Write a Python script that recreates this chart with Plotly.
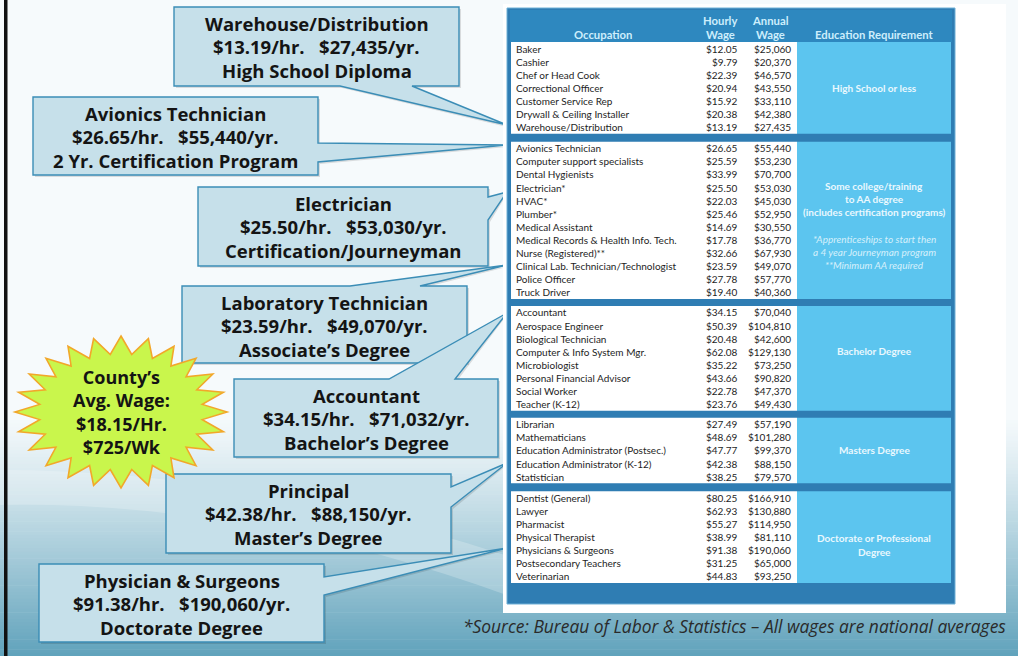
import math
import plotly.graph_objects as go

# ---------------- DATA ----------------
occupations = [
    "Baker", "Cashier", "Chef or Head Cook", "Correctional Officer", "Customer Service Rep",
    "Drywall & Ceiling Installer", "Warehouse/Distribution",
    "Avionics Technician", "Computer support specialists", "Dental Hygienists", "Electrician*",
    "HVAC*", "Plumber*", "Medical Assistant", "Medical Records & Health Info. Tech.",
    "Nurse (Registered)**", "Clinical Lab. Technician/Technologist", "Police Officer", "Truck Driver",
    "Accountant", "Aerospace Engineer", "Biological Technician", "Computer & Info System Mgr.",
    "Microbiologist", "Personal Financial Advisor", "Social Worker", "Teacher (K-12)",
    "Librarian", "Mathematicians", "Education Administrator (Postsec.)",
    "Education Administrator (K-12)", "Statistician",
    "Dentist (General)", "Lawyer", "Pharmacist", "Physical Therapist", "Physicians & Surgeons",
    "Postsecondary Teachers", "Veterinarian",
]
hourly_wage = [
    12.05, 9.79, 22.39, 20.94, 15.92, 20.38, 13.19,
    26.65, 25.59, 33.99, 25.50, 22.03, 25.46, 14.69, 17.78, 32.66, 23.59, 27.78, 19.40,
    34.15, 50.39, 20.48, 62.08, 35.22, 43.66, 22.78, 23.76,
    27.49, 48.69, 47.77, 42.38, 38.25,
    80.25, 62.93, 55.27, 38.99, 91.38, 31.25, 44.83,
]
annual_wage = [
    25060, 20370, 46570, 43550, 33110, 42380, 27435,
    55440, 53230, 70700, 53030, 45030, 52950, 30550, 36770, 67930, 49070, 57770, 40360,
    70040, 104810, 42600, 129130, 73250, 90820, 47370, 49430,
    57190, 101280, 99370, 88150, 79570,
    166910, 130880, 114950, 81110, 190060, 65000, 93250,
]
group_sizes = [7, 12, 8, 5, 7]
education_lines = [
    ["High School or less"],
    ["Some college/training", "to AA degree", "(includes certification programs)"],
    ["Bachelor Degree"],
    ["Masters Degree"],
    ["Doctorate or Professional", "Degree"],
]
education_notes = [
    [],
    ["*Apprenticeships to start then", "a 4 year Journeyman program", "**Minimum AA required"],
    [], [], [],
]
header_labels = ["Occupation", "Hourly", "Wage", "Annual", "Wage", "Education Requirement"]

callout_titles = ["Warehouse/Distribution", "Avionics Technician", "Electrician",
                  "Laboratory Technician", "Accountant", "Principal", "Physician & Surgeons"]
callout_hourly = [13.19, 26.65, 25.50, 23.59, 34.15, 42.38, 91.38]
callout_annual = [27435, 55440, 53030, 49070, 71032, 88150, 190060]
callout_degree = ["High School Diploma", "2 Yr. Certification Program", "Certification/Journeyman",
                  "Associate\u2019s Degree", "Bachelor\u2019s Degree", "Master\u2019s Degree",
                  "Doctorate Degree"]

county_lines = ["County\u2019s", "Avg. Wage:", "$18.15/Hr.", "$725/Wk"]
source_text = "*Source: Bureau of Labor & Statistics \u2013 All wages are national averages"

# ---------------- LAYOUT CONSTANTS ----------------
W, H = 1018, 656
callout_boxes = [  # x0, y0, x1, y1, edge, a, b, tipx, tipy
    (174, 7, 459, 86, "bottom", 340, 412, 507, 125),
    (33, 97, 318, 175, "right", 143, 162, 507, 145),
    (198, 187, 488, 266, "right", 197, 220, 507, 192),
    (182, 286, 467, 363, "top", 350, 420, 507, 265),
    (234, 379, 498, 457, "top", 389, 455, 507, 313),
    (166, 474, 451, 553, "right", 487, 507, 507, 463),
    (39, 564, 324, 642, "right", 577, 595, 507, 548),
]
edu_offsets = [0, 5, -7, 0, 8]
BIG_FONT = "Open Sans"

shapes = []
annotations = []


def hexmix(c1, c2, t):
    return "rgb(%d,%d,%d)" % tuple(round(c1[i] + (c2[i] - c1[i]) * t) for i in range(3))


# ---------------- BACKGROUND ----------------
shapes.append(dict(type="rect", x0=0, x1=W, y0=0, y1=H, fillcolor="#f6fafc", line_width=0, layer="below"))
top_c, bot_c = (244, 249, 251), (96, 162, 187)
y_start = 420
nb = 70
bh = (H - y_start) / nb
for i in range(nb):
    t = ((i + 0.5) / nb) ** 1.15
    shapes.append(dict(type="rect", x0=0, x1=W, y0=y_start + i * bh, y1=y_start + (i + 1) * bh + 0.6,
                       fillcolor=hexmix(top_c, bot_c, t), line_width=0, layer="below"))
# soft light diagonal sweep
shapes.append(dict(type="path", path="M 0 470 Q 250 470 520 560 L 520 600 Q 250 500 0 505 Z",
                   fillcolor="rgba(255,255,255,0.22)", line_width=0, layer="below"))
# left black border
shapes.append(dict(type="rect", x0=4, x1=7.5, y0=0, y1=H, fillcolor="#111111", line_width=0))


# ---------------- CALLOUTS ----------------
def callout_path(x0, y0, x1, y1, edge, a, b, tx, ty):
    if edge == "top":
        pts = [(x0, y0), (a, y0), (tx, ty), (b, y0), (x1, y0), (x1, y1), (x0, y1)]
    elif edge == "right":
        pts = [(x0, y0), (x1, y0), (x1, a), (tx, ty), (x1, b), (x1, y1), (x0, y1)]
    else:
        pts = [(x0, y0), (x1, y0), (x1, y1), (b, y1), (tx, ty), (a, y1), (x0, y1)]
    return "M " + " L ".join("%g %g" % p for p in pts) + " Z"


for i, (x0, y0, x1, y1, edge, a, b, tx, ty) in enumerate(callout_boxes):
    shapes.append(dict(type="path", path=callout_path(x0 + 2, y0 + 2, x1 + 2, y1 + 2, edge, a + 2, b + 2, tx, ty + 2),
                       fillcolor="rgba(0,0,0,0.12)", line_width=0))
    shapes.append(dict(type="path", path=callout_path(x0, y0, x1, y1, edge, a, b, tx, ty),
                       fillcolor="#c6e0ea", line=dict(color="#3b8db6", width=1.4)))
    cx = (x0 + x1) / 2
    lines = [callout_titles[i],
             "$%.2f/hr.\u00a0\u00a0\u00a0$%s/yr." % (callout_hourly[i], format(callout_annual[i], ",")),
             callout_degree[i]]
    for k, txt in enumerate(lines):
        annotations.append(dict(x=cx, y=y0 + 16 + k * 23.5, text="<b>%s</b>" % txt, showarrow=False,
                                xanchor="center", yanchor="middle",
                                font=dict(family=BIG_FONT, size=18.5, color="#141414")))

# ---------------- STARBURST ----------------
scx, scy = 121, 412
n_pts = 24
ro_x, ro_y, ri_x, ri_y = 106, 76, 82, 58
pts = []
for k in range(n_pts * 2):
    ang = -math.pi / 2 + k * math.pi / n_pts
    rx, ry = (ro_x, ro_y) if k % 2 == 0 else (ri_x, ri_y)
    pts.append((scx + rx * math.cos(ang), scy + ry * math.sin(ang)))
star_path = "M " + " L ".join("%.1f %.1f" % p for p in pts) + " Z"
shapes.append(dict(type="path", path=star_path, fillcolor="#c9f64c", line=dict(color="#f2a72a", width=1.6)))
annotations.append(dict(x=scx, y=scy, text="<br>".join("<b>%s</b>" % t for t in county_lines),
                        showarrow=False, xanchor="center", yanchor="middle", align="center",
                        font=dict(family=BIG_FONT, size=18, color="#141414")))

# ---------------- TABLE ----------------
TX0, TX1 = 507, 955
IX0, IX1 = 511, 951
EDU_X0 = 797
HEAD_Y0, HEAD_Y1 = 11, 42
ROW_H = 13.1
SEP = [8, 7, 7, 8]
head_font = dict(family="Lato", size=11.3, color="#cdeefc")

shapes.append(dict(type="rect", x0=503, x1=1006, y0=4, y1=613, fillcolor="white", line_width=0))
shapes.append(dict(type="rect", x0=TX0, x1=TX1, y0=8, y1=604, fillcolor="#2f7db3",
                   line=dict(color="#6fb0d6", width=1)))
shapes.append(dict(type="rect", x0=IX0 - 1, x1=IX1 + 1, y0=HEAD_Y0 - 1, y1=HEAD_Y1, fillcolor="#2e88bf", line_width=0))

annotations.append(dict(x=603, y=34.5, text="<b>%s</b>" % header_labels[0], showarrow=False, xanchor="center",
                        yanchor="middle", font=head_font))
for xi, (l1, l2) in zip([720, 770], [(header_labels[1], header_labels[2]), (header_labels[3], header_labels[4])]):
    annotations.append(dict(x=xi, y=20, text="<b>%s</b>" % l1, showarrow=False, xanchor="center",
                            yanchor="middle", font=head_font))
    annotations.append(dict(x=xi, y=34.5, text="<b>%s</b>" % l2, showarrow=False, xanchor="center",
                            yanchor="middle", font=head_font))
annotations.append(dict(x=874, y=34.5, text="<b>%s</b>" % header_labels[5], showarrow=False, xanchor="center",
                        yanchor="middle", font=head_font))

row_font = dict(family="Lato", size=10, color="#1e1e1e")
y = HEAD_Y1
idx = 0
for g, n in enumerate(group_sizes):
    gy0 = y
    gy1 = y + n * ROW_H
    shapes.append(dict(type="rect", x0=IX0, x1=EDU_X0, y0=gy0, y1=gy1, fillcolor="white", line_width=0))
    shapes.append(dict(type="rect", x0=EDU_X0, x1=IX1, y0=gy0, y1=gy1, fillcolor="#5cc5ef", line_width=0))
    for r in range(n):
        cy = gy0 + (r + 0.5) * ROW_H
        annotations.append(dict(x=514, y=cy, text=occupations[idx], showarrow=False, xanchor="left",
                                yanchor="middle", font=row_font))
        annotations.append(dict(x=740, y=cy, text="$%.2f" % hourly_wage[idx], showarrow=False, xanchor="right",
                                yanchor="middle", font=row_font))
        annotations.append(dict(x=793, y=cy, text="$" + format(annual_wage[idx], ","), showarrow=False,
                                xanchor="right", yanchor="middle", font=row_font))
        idx += 1
    # education text
    lines = [("<b>%s</b>" % t, "#eaf8fe") for t in education_lines[g]]
    if education_notes[g]:
        lines.append(("", "#ffffff"))
        lines += [("<i>%s</i>" % t, "#d6f0fb") for t in education_notes[g]]
    gc = (gy0 + gy1) / 2 + edu_offsets[g]
    for k, (t, col) in enumerate(lines):
        if not t:
            continue
        annotations.append(dict(x=874, y=gc + (k - (len(lines) - 1) / 2) * 13.2, text=t, showarrow=False,
                                xanchor="center", yanchor="middle",
                                font=dict(family="Lato", size=10, color=col)))
    y = gy1 + (SEP[g] if g < len(SEP) else 0)

# source note
annotations.append(dict(x=1008, y=626, text="<i>%s</i>" % source_text, showarrow=False, xanchor="right",
                        yanchor="middle", font=dict(family=BIG_FONT, size=17.4, color="#2a2a2a")))

fig = go.Figure()
fig.update_layout(
    width=W, height=H, autosize=False,
    margin=dict(l=0, r=0, t=0, b=0),
    xaxis=dict(range=[0, W], visible=False, fixedrange=True),
    yaxis=dict(range=[H, 0], visible=False, fixedrange=True),
    paper_bgcolor="#f6fafc", plot_bgcolor="#f6fafc",
    showlegend=False,
    shapes=shapes, annotations=annotations,
)
fig.write_html("out.html", config=dict(displayModeBar=False),
               post_script="document.body.style.margin='0px';document.body.style.overflow='hidden';")
